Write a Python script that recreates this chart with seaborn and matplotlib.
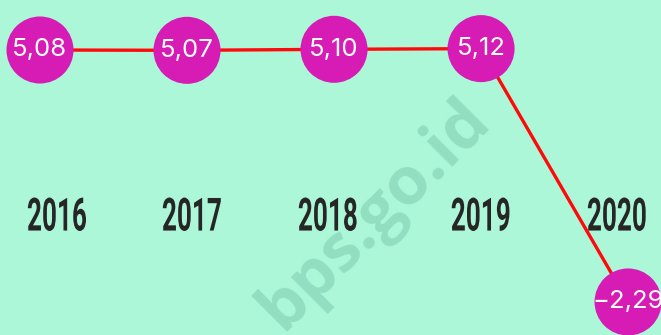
import matplotlib
matplotlib.use("Agg")
import matplotlib.pyplot as plt
from matplotlib import font_manager
from matplotlib.patheffects import AbstractPathEffect
import matplotlib.transforms as mtransforms
import seaborn as sns
import pandas as pd

# Economic growth, percent
years = ["2016", "2017", "2018", "2019", "2020"]
growth = [5.08, 5.07, 5.10, 5.12, -2.29]
value_labels = ["5,08", "5,07", "5,10", "5,12", "\u22122,29"]

BG = "#adf7d9"
DOT = "#d61cb4"
LINE = "#ff0a0a"
YEAR_COLOR = "#262626"


def pick_font(candidates):
    names = {f.name for f in font_manager.fontManager.ttflist}
    for c in candidates:
        if c in names:
            return c
    return "DejaVu Sans"


class Squeeze(AbstractPathEffect):
    """Narrow the glyphs horizontally about their own centre."""

    def __init__(self, sx):
        super().__init__()
        self.sx = sx

    def draw_path(self, renderer, gc, tpath, affine, rgbFace=None):
        ext = tpath.get_extents(affine)
        cx = 0.5 * (ext.x0 + ext.x1)
        squeezed = affine + mtransforms.Affine2D().translate(-cx, 0).scale(self.sx, 1).translate(cx, 0)
        renderer.draw_path(gc, tpath, squeezed, rgbFace)


year_font = pick_font(["Roboto", "Inter", "DejaVu Sans"])
value_font = pick_font(["Inter", "Roboto", "Noto Sans"])
mark_font = pick_font(["Open Sans", "Noto Sans", "DejaVu Sans"])

sns.set_theme(style="white")
plt.rcParams["font.family"] = [value_font, "DejaVu Sans"]

df = pd.DataFrame({"pos": range(len(years)), "growth": growth, "year": years})

fig = plt.figure(figsize=(6.61, 3.35), dpi=100, facecolor=BG)
ax = fig.add_axes([0, 0, 1, 1])
ax.set_facecolor(BG)

# watermark
ax.text(0.568, 0.36, "bps.go.id", transform=ax.transAxes, rotation=45,
        ha="center", va="center", fontsize=48, fontweight="bold",
        family=[mark_font], color="#8fdcbf", alpha=0.9, zorder=0)

sns.lineplot(data=df, x="pos", y="growth", ax=ax, color=LINE, lw=2.4,
             zorder=2, legend=False)
sns.scatterplot(data=df, x="pos", y="growth", ax=ax, s=2330, color=DOT,
                edgecolor="none", linewidth=0, zorder=3, legend=False)

for x, y, lab in zip(df["pos"], df["growth"], value_labels):
    ax.text(x, y, lab, ha="center", va="center", color="white",
            fontsize=18.5, zorder=4)

# year captions sit on a fixed band across the chart
band = mtransforms.blended_transform_factory(ax.transData, ax.transAxes)
label_dx = [17, 5, -6, 0, -11]
for x, yr, dx in zip(df["pos"], years, label_dx):
    off = mtransforms.offset_copy(band, fig=fig, x=dx * 0.72, y=0, units="points")
    ax.text(x, 0.364, yr, transform=off, ha="center", va="center_baseline",
            fontsize=33, fontweight="bold", family=[year_font],
            color=YEAR_COLOR, zorder=1, path_effects=[Squeeze(0.57)])

ax.set_xlim(-0.272, 4.224)
ax.set_ylim(-3.256, 6.542)
ax.set_xlabel("")
ax.set_ylabel("")
ax.set_xticks([])
ax.set_yticks([])
for s in ax.spines.values():
    s.set_visible(False)

fig.savefig("out.png", dpi=100, facecolor=BG)
